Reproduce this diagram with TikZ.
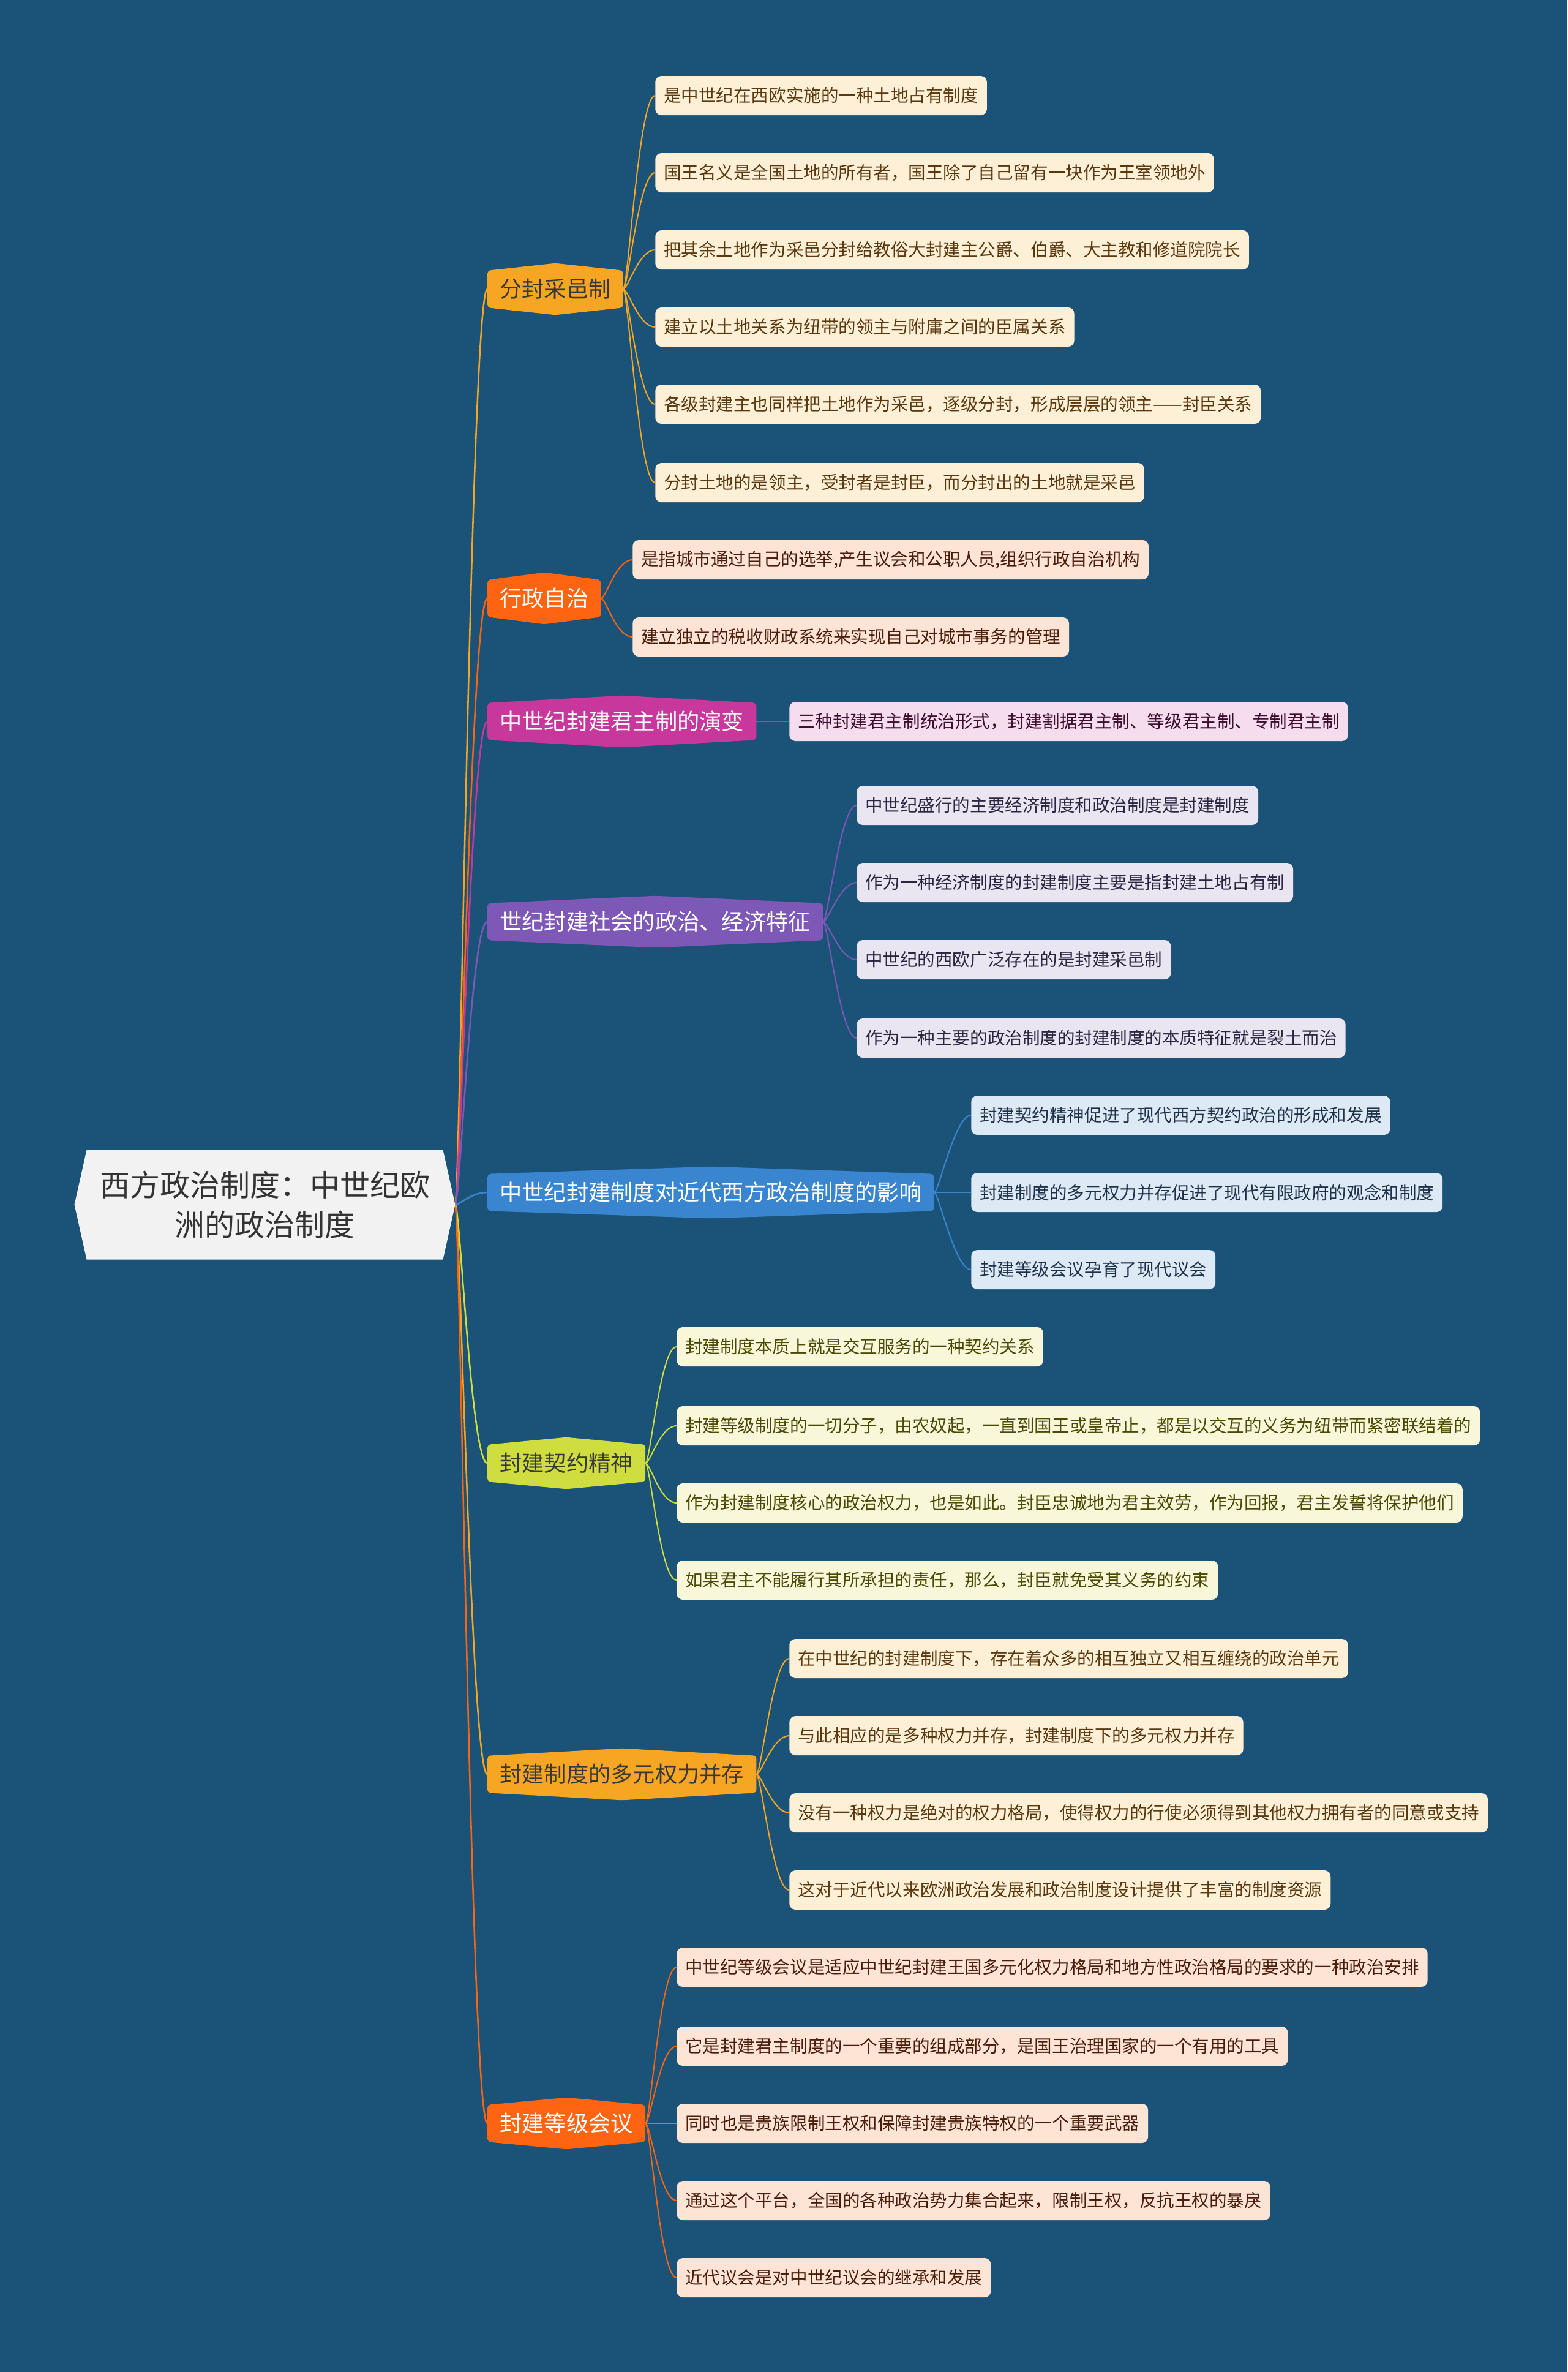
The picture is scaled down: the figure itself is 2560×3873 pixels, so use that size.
\documentclass[tikz,border=0pt]{standalone}
\usepackage{fontspec}
\newfontfamily\cjk{Noto Sans CJK SC}
\usetikzlibrary{backgrounds}
\definecolor{colbg}{HTML}{1B5378}
\definecolor{colcentral}{HTML}{F2F2F2}
\definecolor{colgold}{HTML}{F7A623}
\definecolor{colred}{HTML}{FF6410}
\definecolor{colmag}{HTML}{C8389C}
\definecolor{colpur}{HTML}{7D58B6}
\definecolor{colblu}{HTML}{3A85CF}
\definecolor{collim}{HTML}{CFDD3F}
\definecolor{leafgold}{HTML}{FDF0D6}
\definecolor{leafred}{HTML}{FDE4D4}
\definecolor{leafmag}{HTML}{F5DDEE}
\definecolor{leafpur}{HTML}{E9E5F1}
\definecolor{leafblu}{HTML}{DDE9F5}
\definecolor{leaflim}{HTML}{F8F7DA}
\definecolor{txtgold}{HTML}{5A3810}
\definecolor{txtred}{HTML}{4A1D0C}
\definecolor{txtmag}{HTML}{3E0E30}
\definecolor{txtpur}{HTML}{2C2440}
\definecolor{txtblu}{HTML}{1D3248}
\definecolor{txtlim}{HTML}{4A4A05}
\newcommand{\topicshape}[2]{%
  \fill[#2, rounded corners=4pt] ([yshift=-9pt]#1.north west) -- (#1.north)
    -- ([yshift=-9pt]#1.north east) -- ([yshift=9pt]#1.south east)
    -- (#1.south) -- ([yshift=9pt]#1.south west) -- cycle;}
\tikzset{
    map node/.style={inner sep=0pt, align=center},
    central/.style={map node, font=\cjk\fontsize{36.75pt}{48.75pt}\selectfont,
        text=black!80, minimum width=466pt, minimum height=134pt},
    branch/.style={map node, font=\cjk\fontsize{27.2pt}{32pt}\selectfont,
        inner xsep=15pt, minimum height=63pt, anchor=west},
    branch dark/.style={branch, text=black!78},
    branch light/.style={branch, text=white},
    leaf/.style={map node, font=\cjk\fontsize{21.4pt}{26pt}\selectfont,
        inner xsep=10.5pt, minimum height=48pt, rounded corners=7.5pt, anchor=west},
    leaf gold/.style={leaf, fill=leafgold, text=txtgold},
    leaf red/.style={leaf, fill=leafred, text=txtred},
    leaf mag/.style={leaf, fill=leafmag, text=txtmag},
    leaf pur/.style={leaf, fill=leafpur, text=txtpur},
    leaf blu/.style={leaf, fill=leafblu, text=txtblu},
    leaf lim/.style={leaf, fill=leaflim, text=txtlim},
    map edge/.style={line width=1.9pt},
    leaf edge/.style={line width=1.5pt},
}

\begin{document}
\begin{tikzpicture}[x=0.75pt, y=-0.75pt]

\useasboundingbox (0,0) rectangle (2560,3873);
\begin{scope}[on background layer]
    \fill[colbg] (0,0) rectangle (2560,3873);
\end{scope}

% ===== CENTRAL TOPIC =====
\node[central] (central) at (432.5,1967) {西方政治制度：中世纪欧\\洲的政治制度};

% ===== MAIN BRANCHES =====
\node[branch dark] (b1) at (796,472) {分封采邑制};
\node[branch light] (b2) at (796,977) {行政自治};
\node[branch light] (b3) at (796,1178) {中世纪封建君主制的演变};
\node[branch light] (b4) at (796,1505) {世纪封建社会的政治、经济特征};
\node[branch light] (b5) at (796,1947) {中世纪封建制度对近代西方政治制度的影响};
\node[branch dark] (b6) at (796,2389) {封建契约精神};
\node[branch dark] (b7) at (796,2897) {封建制度的多元权力并存};
\node[branch light] (b8) at (796,3467) {封建等级会议};

% ===== LEAVES =====
\node[leaf gold] (l1a) at (1070,156) {是中世纪在西欧实施的一种土地占有制度};
\node[leaf gold] (l1b) at (1070,282) {国王名义是全国土地的所有者，国王除了自己留有一块作为王室领地外};
\node[leaf gold] (l1c) at (1070,408) {把其余土地作为采邑分封给教俗大封建主公爵、伯爵、大主教和修道院院长};
\node[leaf gold] (l1d) at (1070,534) {建立以土地关系为纽带的领主与附庸之间的臣属关系};
\node[leaf gold] (l1e) at (1070,660) {各级封建主也同样把土地作为采邑，逐级分封，形成层层的领主——封臣关系};
\node[leaf gold] (l1f) at (1070,788) {分封土地的是领主，受封者是封臣，而分封出的土地就是采邑};

\node[leaf red] (l2a) at (1033,914) {是指城市通过自己的选举,产生议会和公职人员,组织行政自治机构};
\node[leaf red] (l2b) at (1033,1040) {建立独立的税收财政系统来实现自己对城市事务的管理};

\node[leaf mag] (l3a) at (1289,1178) {三种封建君主制统治形式，封建割据君主制、等级君主制、专制君主制};

\node[leaf pur] (l4a) at (1399,1315) {中世纪盛行的主要经济制度和政治制度是封建制度};
\node[leaf pur] (l4b) at (1399,1441) {作为一种经济制度的封建制度主要是指封建土地占有制};
\node[leaf pur] (l4c) at (1399,1567) {中世纪的西欧广泛存在的是封建采邑制};
\node[leaf pur] (l4d) at (1399,1695) {作为一种主要的政治制度的封建制度的本质特征就是裂土而治};

\node[leaf blu] (l5a) at (1586,1821) {封建契约精神促进了现代西方契约政治的形成和发展};
\node[leaf blu] (l5b) at (1586,1947) {封建制度的多元权力并存促进了现代有限政府的观念和制度};
\node[leaf blu] (l5c) at (1586,2073) {封建等级会议孕育了现代议会};

\node[leaf lim] (l6a) at (1105,2199) {封建制度本质上就是交互服务的一种契约关系};
\node[leaf lim] (l6b) at (1105,2328) {封建等级制度的一切分子，由农奴起，一直到国王或皇帝止，都是以交互的义务为纽带而紧密联结着的};
\node[leaf lim] (l6c) at (1105,2454) {作为封建制度核心的政治权力，也是如此。封臣忠诚地为君主效劳，作为回报，君主发誓将保护他们};
\node[leaf lim] (l6d) at (1105,2580) {如果君主不能履行其所承担的责任，那么，封臣就免受其义务的约束};

\node[leaf gold] (l7a) at (1289,2708) {在中世纪的封建制度下，存在着众多的相互独立又相互缠绕的政治单元};
\node[leaf gold] (l7b) at (1289,2834) {与此相应的是多种权力并存，封建制度下的多元权力并存};
\node[leaf gold] (l7c) at (1289,2960) {没有一种权力是绝对的权力格局，使得权力的行使必须得到其他权力拥有者的同意或支持};
\node[leaf gold] (l7d) at (1289,3086) {这对于近代以来欧洲政治发展和政治制度设计提供了丰富的制度资源};

\node[leaf red] (l8a) at (1105,3212) {中世纪等级会议是适应中世纪封建王国多元化权力格局和地方性政治格局的要求的一种政治安排};
\node[leaf red] (l8b) at (1105,3341) {它是封建君主制度的一个重要的组成部分，是国王治理国家的一个有用的工具};
\node[leaf red] (l8c) at (1105,3467) {同时也是贵族限制王权和保障封建贵族特权的一个重要武器};
\node[leaf red] (l8d) at (1105,3593) {通过这个平台，全国的各种政治势力集合起来，限制王权，反抗王权的暴戾};
\node[leaf red] (l8e) at (1105,3719) {近代议会是对中世纪议会的继承和发展};

% ===== EDGES =====
\begin{scope}[on background layer]
\draw[map edge, colgold] (central.east) .. controls ([xshift=6pt]central.east) and ([xshift=-20pt]b1.west) .. (b1.west);
\draw[map edge, colred] (central.east) .. controls ([xshift=6pt]central.east) and ([xshift=-20pt]b2.west) .. (b2.west);
\draw[map edge, colmag] (central.east) .. controls ([xshift=6pt]central.east) and ([xshift=-20pt]b3.west) .. (b3.west);
\draw[map edge, colpur] (central.east) .. controls ([xshift=6pt]central.east) and ([xshift=-20pt]b4.west) .. (b4.west);
\draw[map edge, colblu] (central.east) .. controls ([xshift=6pt]central.east) and ([xshift=-20pt]b5.west) .. (b5.west);
\draw[map edge, collim] (central.east) .. controls ([xshift=6pt]central.east) and ([xshift=-20pt]b6.west) .. (b6.west);
\draw[map edge, colgold] (central.east) .. controls ([xshift=6pt]central.east) and ([xshift=-20pt]b7.west) .. (b7.west);
\draw[map edge, colred] (central.east) .. controls ([xshift=6pt]central.east) and ([xshift=-20pt]b8.west) .. (b8.west);

\foreach \l in {l1a,l1b,l1c,l1d,l1e,l1f}
    \draw[leaf edge, colgold] (b1.east) .. controls ([xshift=6pt]b1.east) and ([xshift=-20pt]\l.west) .. (\l.west);
\foreach \l in {l2a,l2b}
    \draw[leaf edge, colred] (b2.east) .. controls ([xshift=6pt]b2.east) and ([xshift=-20pt]\l.west) .. (\l.west);
\draw[leaf edge, colmag] (b3.east) -- (l3a.west);
\foreach \l in {l4a,l4b,l4c,l4d}
    \draw[leaf edge, colpur] (b4.east) .. controls ([xshift=6pt]b4.east) and ([xshift=-20pt]\l.west) .. (\l.west);
\foreach \l in {l5a,l5b,l5c}
    \draw[leaf edge, colblu] (b5.east) .. controls ([xshift=6pt]b5.east) and ([xshift=-20pt]\l.west) .. (\l.west);
\foreach \l in {l6a,l6b,l6c,l6d}
    \draw[leaf edge, collim] (b6.east) .. controls ([xshift=6pt]b6.east) and ([xshift=-20pt]\l.west) .. (\l.west);
\foreach \l in {l7a,l7b,l7c,l7d}
    \draw[leaf edge, colgold] (b7.east) .. controls ([xshift=6pt]b7.east) and ([xshift=-20pt]\l.west) .. (\l.west);
\foreach \l in {l8a,l8b,l8c,l8d,l8e}
    \draw[leaf edge, colred] (b8.east) .. controls ([xshift=6pt]b8.east) and ([xshift=-20pt]\l.west) .. (\l.west);

% ===== TOPIC SHAPES =====
\fill[colcentral] (central.west) -- ([xshift=15pt]central.north west) -- ([xshift=-15pt]central.north east)
    -- (central.east) -- ([xshift=-15pt]central.south east) -- ([xshift=15pt]central.south west) -- cycle;
\topicshape{b1}{colgold}
\topicshape{b2}{colred}
\topicshape{b3}{colmag}
\topicshape{b4}{colpur}
\topicshape{b5}{colblu}
\topicshape{b6}{collim}
\topicshape{b7}{colgold}
\topicshape{b8}{colred}
\end{scope}

\end{tikzpicture}
\end{document}
